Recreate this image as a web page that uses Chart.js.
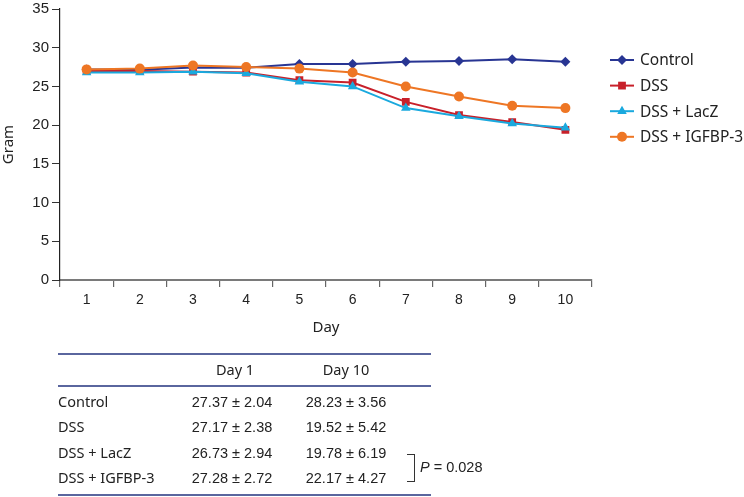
<!DOCTYPE html>
<html>
<head>
<meta charset="utf-8">
<script src="https://cdn.jsdelivr.net/npm/chart.js"></script>
<style>
  body { margin: 0; background: #fff; font-family: "Liberation Sans", Arial, sans-serif; color: #222; }
  #wrap { position: relative; width: 744px; height: 497px; }
  #chart-box { position: absolute; left: 0; top: 0; width: 744px; height: 340px; }
  #tabla { position: absolute; left: 0; top: 0; width: 744px; height: 497px; pointer-events: none; }
  .linea { position: absolute; left: 58px; width: 373px; height: 2px; background: #5a669e; }
  .celda { position: absolute; font-size: 14.5px; line-height: 16px; white-space: nowrap; }
  .noto { font-family: "Noto Sans", sans-serif; font-size: 14.5px; margin-top: -1px; }
</style>
</head>
<body>
<div id="wrap">
  <div id="chart-box"><canvas id="peso-chart"></canvas></div>
  <div id="tabla"></div>
</div>
<script>
// datos del grafico (peso en gramos por dia)
var dias = ['1', '2', '3', '4', '5', '6', '7', '8', '9', '10'];
var grupos = ['Control', 'DSS', 'DSS + LacZ', 'DSS + IGFBP-3'];
var control = [27.2, 27.15, 27.45, 27.4, 27.9, 27.9, 28.2, 28.3, 28.5, 28.2];
var dss = [27.0, 27.0, 26.9, 26.8, 25.8, 25.5, 23.0, 21.3, 20.4, 19.4];
var dssLacZ = [26.8, 26.8, 26.9, 26.7, 25.6, 25.0, 22.2, 21.15, 20.2, 19.65];
var dssIgfbp = [27.2, 27.3, 27.7, 27.5, 27.3, 26.8, 25.0, 23.7, 22.5, 22.2];

// datos de la tabla
var columnas = ['Day 1', 'Day 10'];
var dia1 = ['27.37 ± 2.04', '27.17 ± 2.38', '26.73 ± 2.94', '27.28 ± 2.72'];
var dia10 = ['28.23 ± 3.56', '19.52 ± 5.42', '19.78 ± 6.19', '22.17 ± 4.27'];
var pValor = '0.028';

var colores = ['#283593', '#c8202a', '#1aa9de', '#ee7624'];
var marcas = ['rectRot', 'rect', 'triangle', 'circle'];
var radios = [5, 5.5, 5.5, 5];
var series = [control, dss, dssLacZ, dssIgfbp];

var datasets = [];
for (var i = 0; i < grupos.length; i++) {
    datasets.push({
        label: grupos[i],
        data: series[i],
        borderColor: colores[i],
        backgroundColor: colores[i],
        borderWidth: 2,
        pointStyle: marcas[i],
        pointRadius: radios[i],
        pointHoverRadius: radios[i],
        pointBorderWidth: 0,
        tension: 0,
        order: grupos.length - 1 - i
    });
}

// leyenda dibujada a mano (linea + marcador)
var leyendaPlugin = {
    id: 'leyenda',
    afterDraw: function(chart) {
        var ctx = chart.ctx;
        ctx.save();
        for (var i = 0; i < grupos.length; i++) {
            var y = 60 + i * 25.6;
            ctx.strokeStyle = colores[i];
            ctx.lineWidth = 2;
            ctx.beginPath();
            ctx.moveTo(610, y);
            ctx.lineTo(634, y);
            ctx.stroke();
            ctx.fillStyle = colores[i];
            Chart.helpers.drawPoint(ctx, { pointStyle: marcas[i], radius: radios[i], borderWidth: 0 }, 622, y);
            ctx.fillStyle = '#222';
            ctx.font = '15.5px "Noto Sans", sans-serif';
            ctx.textBaseline = 'middle';
            ctx.fillText(grupos[i], 640, y + 1);
        }
        ctx.restore();
    }
};

var fuenteX = { family: '"Liberation Sans", Arial, sans-serif', size: 14 };
var fuenteY = { family: '"Liberation Sans", Arial, sans-serif', size: 15 };
var fuenteTitulo = { family: '"Noto Sans", sans-serif', size: 15 };

var ctx = document.getElementById('peso-chart').getContext('2d');
var pesoChart = new Chart(ctx, {
    type: 'line',
    data: { labels: dias, datasets: datasets },
    options: {
        responsive: true,
        maintainAspectRatio: false,
        animation: false,
        layout: { padding: { top: 9, right: 152, left: 0, bottom: 0 } },
        plugins: { legend: { display: false }, tooltip: { enabled: false } },
        scales: {
            x: {
                offset: true,
                grid: { offset: true, drawOnChartArea: false, drawTicks: true, tickLength: 7, color: '#666', lineWidth: 1.2 },
                border: { color: '#7a7a7a', width: 2 },
                ticks: { color: '#222', font: fuenteX, padding: 5, maxRotation: 0 },
                title: { display: true, text: 'Day', color: '#222', font: fuenteTitulo, padding: { top: 4, bottom: 3 } },
                afterFit: function(s) { s.height = 60; s.paddingLeft = 0; s.paddingRight = 0; }
            },
            y: {
                min: 0,
                max: 35,
                ticks: { stepSize: 5, color: '#222', font: fuenteY, padding: 3 },
                grid: { drawOnChartArea: false, drawTicks: true, tickLength: 8, color: '#333', lineWidth: 1 },
                border: { color: '#222', width: 1.2 },
                title: { display: true, text: 'Gram', color: '#222', font: fuenteTitulo, padding: 0 },
                afterFit: function(s) { s.width = 60; s.paddingTop = 0; s.paddingBottom = 0; }
            }
        }
    },
    plugins: [leyendaPlugin]
});

// tabla debajo del grafico
var tabla = document.getElementById('tabla');
function linea(y) {
    var d = document.createElement('div');
    d.className = 'linea';
    d.style.top = y + 'px';
    tabla.appendChild(d);
}
function celda(texto, x, y, centro, clase) {
    var d = document.createElement('div');
    d.className = 'celda' + (clase ? ' ' + clase : '');
    d.innerHTML = texto;
    d.style.top = (y - 8) + 'px';
    if (centro) {
        d.style.left = (x - 60) + 'px';
        d.style.width = '120px';
        d.style.textAlign = 'center';
    } else {
        d.style.left = x + 'px';
    }
    tabla.appendChild(d);
}
linea(353);
linea(385);
linea(494);
celda(columnas[0], 235, 370, true, 'noto');
celda(columnas[1], 346, 370, true, 'noto');
for (var i = 0; i < grupos.length; i++) {
    var y = 402 + i * 25.3;
    celda(grupos[i], 58, y, false, 'noto');
    celda(dia1[i], 232, y, true);
    celda(dia10[i], 346, y, true);
}
// corchete del valor P
var corchete = document.createElement('div');
corchete.style.cssText = 'position:absolute;left:407px;top:454px;width:7px;height:26px;border:1.2px solid #333;border-left:none;';
tabla.appendChild(corchete);
celda('<i>P</i> = ' + pValor, 420, 467, false);
</script>
</body>
</html>
